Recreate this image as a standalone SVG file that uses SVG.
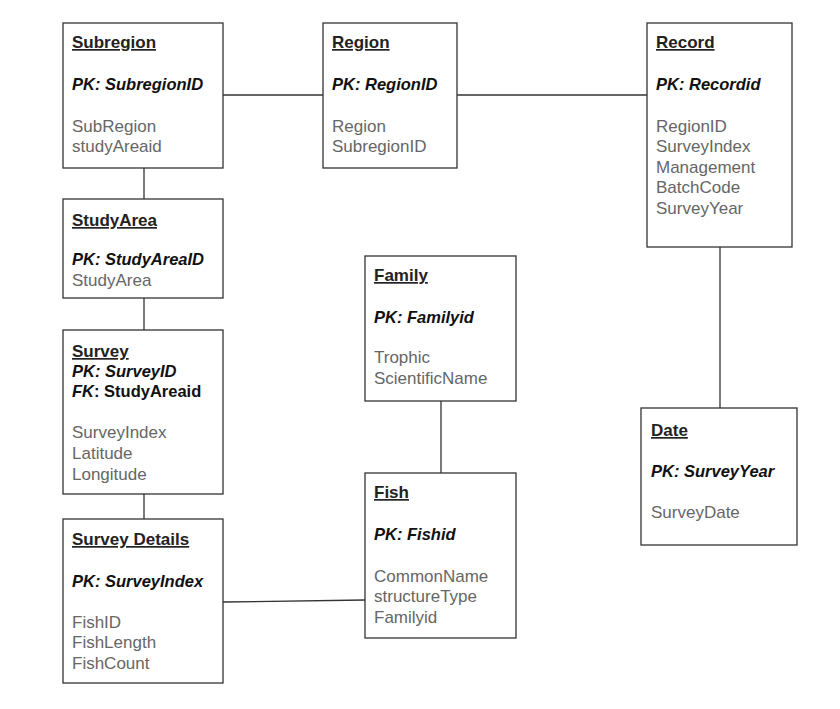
<svg xmlns="http://www.w3.org/2000/svg" width="840" height="709" viewBox="0 0 840 709">
<style>
.box{fill:#fff;stroke:#333;stroke-width:1.3}
.ln{stroke:#333;stroke-width:1.3;fill:none}
text{font-family:"Liberation Sans",Arial,sans-serif;font-size:17px}
.t{font-weight:bold;fill:#222;text-decoration:underline}
.pk{font-weight:bold;font-style:italic;fill:#111;font-size:16.5px}
.fk{font-weight:bold;fill:#111;font-size:16.5px}
.a{fill:#666}
</style>
<rect width="840" height="709" fill="#fff"/>
<g id="connectors">
<line class="ln" x1="223" y1="95" x2="323" y2="95"/>
<line class="ln" x1="457" y1="95" x2="647" y2="95"/>
<line class="ln" x1="144" y1="168" x2="144" y2="199"/>
<line class="ln" x1="144" y1="298" x2="144" y2="330"/>
<line class="ln" x1="144" y1="494" x2="144" y2="519"/>
<line class="ln" x1="223" y1="602" x2="365" y2="600"/>
<line class="ln" x1="441" y1="401" x2="441" y2="473"/>
<line class="ln" x1="720" y1="247" x2="720" y2="408"/>
</g>
<g id="subregion">
<rect class="box" x="63" y="23" width="160" height="145"/>
<text class="t" x="72" y="48">Subregion</text>
<text class="pk" x="72" y="90">PK: SubregionID</text>
<text class="a" x="72" y="132">SubRegion</text>
<text class="a" x="72" y="152">studyAreaid</text>
</g>
<g id="region">
<rect class="box" x="323" y="23" width="134" height="145"/>
<text class="t" x="332" y="48">Region</text>
<text class="pk" x="332" y="90">PK: RegionID</text>
<text class="a" x="332" y="132">Region</text>
<text class="a" x="332" y="152">SubregionID</text>
</g>
<g id="record">
<rect class="box" x="647" y="23" width="145" height="224"/>
<text class="t" x="656" y="48">Record</text>
<text class="pk" x="656" y="90">PK: Recordid</text>
<text class="a" x="656" y="132">RegionID</text>
<text class="a" x="656" y="152">SurveyIndex</text>
<text class="a" x="656" y="173">Management</text>
<text class="a" x="656" y="193">BatchCode</text>
<text class="a" x="656" y="214">SurveyYear</text>
</g>
<g id="studyarea">
<rect class="box" x="63" y="199" width="160" height="99"/>
<text class="t" x="72" y="226">StudyArea</text>
<text class="pk" x="72" y="265">PK: StudyAreaID</text>
<text class="a" x="72" y="286">StudyArea</text>
</g>
<g id="survey">
<rect class="box" x="63" y="330" width="160" height="164"/>
<text class="t" x="72" y="357">Survey</text>
<text class="pk" x="72" y="377">PK: SurveyID</text>
<text class="fk" x="72" y="397"><tspan font-style="italic">FK</tspan>: StudyAreaid</text>
<text class="a" x="72" y="438">SurveyIndex</text>
<text class="a" x="72" y="459">Latitude</text>
<text class="a" x="72" y="480">Longitude</text>
</g>
<g id="surveydetails">
<rect class="box" x="63" y="519" width="160" height="164"/>
<text class="t" x="72" y="545">Survey Details</text>
<text class="pk" x="72" y="587">PK: SurveyIndex</text>
<text class="a" x="72" y="628">FishID</text>
<text class="a" x="72" y="648">FishLength</text>
<text class="a" x="72" y="669">FishCount</text>
</g>
<g id="family">
<rect class="box" x="365" y="256" width="151" height="145"/>
<text class="t" x="374" y="281">Family</text>
<text class="pk" x="374" y="323">PK: Familyid</text>
<text class="a" x="374" y="363">Trophic</text>
<text class="a" x="374" y="384">ScientificName</text>
</g>
<g id="fish">
<rect class="box" x="365" y="473" width="151" height="165"/>
<text class="t" x="374" y="498">Fish</text>
<text class="pk" x="374" y="540">PK: Fishid</text>
<text class="a" x="374" y="582">CommonName</text>
<text class="a" x="374" y="602">structureType</text>
<text class="a" x="374" y="623">Familyid</text>
</g>
<g id="date">
<rect class="box" x="641" y="408" width="156" height="137"/>
<text class="t" x="651" y="436">Date</text>
<text class="pk" x="651" y="477">PK: SurveyYear</text>
<text class="a" x="651" y="518">SurveyDate</text>
</g>
</svg>
